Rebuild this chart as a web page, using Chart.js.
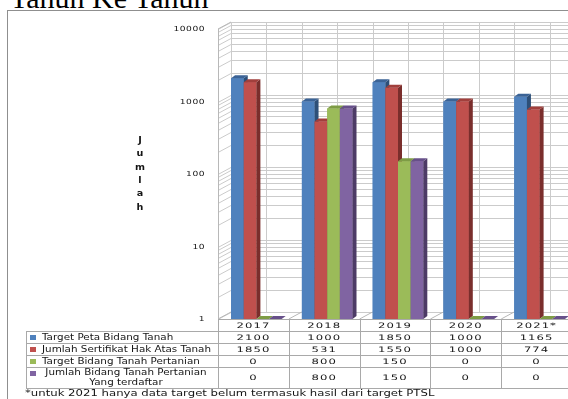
<!DOCTYPE html>
<html>
<head>
<meta charset="utf-8">
<script src="https://cdn.jsdelivr.net/npm/chart.js@4.4.0/dist/chart.umd.min.js"></script>
<style>
html, body { margin: 0; padding: 0; background: #fff; overflow: hidden; width: 568px; height: 399px; }
#title { position: absolute; left: 10px; top: -17px; font-family: "Liberation Serif", serif; font-size: 30px; line-height: 30px; white-space: nowrap; color: #000; }
#box { position: absolute; left: 7px; top: 10px; width: 620px; height: 420px; border: 1px solid #8f8f8f; }
#wrap { position: absolute; left: 0; top: 0; width: 600px; height: 399px; }
</style>
</head>
<body>
<div id="title">Tahun Ke Tahun</div>
<div id="box"></div>
<div id="wrap"><canvas id="chart" width="600" height="399"></canvas></div>
<script>
// Data
const years = ['2017', '2018', '2019', '2020', '2021*'];
const seriesNames = [
    ['Target Peta Bidang Tanah'],
    ['Jumlah Sertifikat Hak Atas Tanah'],
    ['Target Bidang Tanah Pertanian'],
    ['Jumlah Bidang Tanah Pertanian', 'Yang terdaftar']
];
const targetPeta = [2100, 1000, 1850, 1000, 1165];
const sertifikat = [1850, 531, 1550, 1000, 774];
const targetPertanian = [0, 800, 150, 0, 0];
const bidangTerdaftar = [0, 800, 150, 0, 0];
const yTicks = [1, 10, 100, 1000, 10000];
const yTitle = 'Jumlah';
const footnote = '*untuk 2021 hanya data target belum termasuk hasil dari target PTSL';

// Office 2007 palette
const frontColors = ['#4f81bd', '#c0504d', '#9bbb59', '#8064a2'];
const sideColors = ['#2d4f78', '#7a2e2c', '#5f7a31', '#4d3b66'];
const topColors = ['#3b6396', '#a13f3c', '#7e9c45', '#67508a'];

const SHIFT = 3;      // bars sit a bit right of the table columns
const WALL_DX = 13;   // depth of the side wall
const WALL_DY = 7;
const BAR_DX = 4;     // depth of each column
const BAR_DY = 3;
const GRID = '#cbcbcb';
const TEXT = '#151515';

function drawText(ctx, str, x, y, opts) {
    const o = Object.assign({ size: 8, sx: 1.3, align: 'left', bold: false, spacing: 0 }, opts);
    ctx.save();
    ctx.translate(x, y);
    ctx.scale(o.sx, 1);
    ctx.font = (o.bold ? 'bold ' : '') + o.size + 'px "DejaVu Sans"';
    ctx.letterSpacing = o.spacing + 'px';
    ctx.fillStyle = TEXT;
    ctx.textAlign = o.align;
    ctx.textBaseline = 'middle';
    ctx.fillText(str, 0, 0);
    ctx.restore();
}

// Back wall, side wall and floor with log gridlines
const wallPlugin = {
    id: 'wall',
    beforeDatasetsDraw(chart) {
        const ctx = chart.ctx;
        const ca = chart.chartArea;
        const y = chart.scales.y;
        const x = chart.scales.x;
        const colW = (x.right - x.left) / years.length;
        const x0 = ca.left - SHIFT;
        const bx = x0 + WALL_DX;
        const right = chart.width;
        const yTop = y.getPixelForValue(10000);
        const yBot = y.getPixelForValue(1);

        ctx.save();
        ctx.lineWidth = 1;
        ctx.strokeStyle = GRID;
        // horizontal lines, major + minor
        const vals = [];
        for (let d = 0; d < 4; d++) {
            for (let m = 1; m < 10; m++) vals.push(m * Math.pow(10, d));
        }
        vals.push(10000);
        vals.forEach(v => {
            const py = Math.round(y.getPixelForValue(v)) + 0.5;
            ctx.beginPath();
            ctx.moveTo(x0, py);
            ctx.lineTo(bx, py - WALL_DY);
            ctx.lineTo(right, py - WALL_DY);
            ctx.stroke();
        });
        // back wall verticals
        for (let k = 0; k <= years.length * 2; k++) {
            const px = Math.round(bx + k * colW / 2) + 0.5;
            ctx.beginPath();
            ctx.moveTo(px, yTop - WALL_DY);
            ctx.lineTo(px, yBot - WALL_DY);
            ctx.stroke();
        }
        // side wall edges
        ctx.strokeStyle = '#b8b8b8';
        ctx.beginPath();
        ctx.moveTo(x0 + 0.5, yTop);
        ctx.lineTo(x0 + 0.5, yBot);
        ctx.moveTo(x0, yTop);
        ctx.lineTo(bx, yTop - WALL_DY);
        ctx.stroke();
        // floor lines at column boundaries
        for (let k = 0; k <= years.length; k++) {
            const px = x0 + k * colW;
            ctx.beginPath();
            ctx.moveTo(px, yBot);
            ctx.lineTo(px + WALL_DX, yBot - WALL_DY);
            ctx.stroke();
        }
        ctx.restore();
    }
};

// Columns drawn again with depth, left to right so each hides its neighbour's side
const bar3dPlugin = {
    id: 'bar3d',
    afterDatasetsDraw(chart) {
        const ctx = chart.ctx;
        ctx.save();
        chart.data.datasets.forEach((ds, i) => {
            const meta = chart.getDatasetMeta(i);
            meta.data.forEach(bar => {
                const p = bar.getProps(['x', 'y', 'width', 'base'], true);
                const l = p.x - p.width / 2;
                const r = p.x + p.width / 2;
                ctx.fillStyle = frontColors[i];
                ctx.fillRect(l, p.y, p.width, p.base - p.y);
                ctx.fillStyle = sideColors[i];
                ctx.beginPath();
                ctx.moveTo(r, p.y);
                ctx.lineTo(r + BAR_DX, p.y - BAR_DY);
                ctx.lineTo(r + BAR_DX, p.base - BAR_DY);
                ctx.lineTo(r, p.base);
                ctx.closePath();
                ctx.fill();
                ctx.fillStyle = topColors[i];
                ctx.beginPath();
                ctx.moveTo(l, p.y);
                ctx.lineTo(l + BAR_DX, p.y - BAR_DY);
                ctx.lineTo(r + BAR_DX, p.y - BAR_DY);
                ctx.lineTo(r, p.y);
                ctx.closePath();
                ctx.fill();
            });
        });
        ctx.restore();
    }
};

// Axis labels, data table and footnote
const tablePlugin = {
    id: 'table',
    afterDraw(chart) {
        const ctx = chart.ctx;
        const ca = chart.chartArea;
        const x = chart.scales.x;
        const y = chart.scales.y;
        const colW = (x.right - x.left) / years.length;
        const x0 = ca.left - SHIFT;
        const right = chart.width;
        const legendLeft = 26;
        const numFont = { size: 7.5, sx: 1.55, align: 'center', spacing: 0.7 };
        const nameFont = { size: 8.5, sx: 1.22 };

        // y tick labels
        yTicks.forEach(v => {
            drawText(ctx, String(v), 205, y.getPixelForValue(v) + 0.5, { size: 7, sx: 1.3, align: 'right', spacing: 0.4 });
        });
        // y title, one letter per line
        const letters = yTitle.split('');
        letters.forEach((ch, i) => {
            drawText(ctx, ch, 140, 141 + i * 13.3, { size: 8, sx: 1.2, align: 'center', bold: true });
        });

        const rowTop = ca.bottom;
        const rows = [rowTop, rowTop + 12, rowTop + 24, rowTop + 36, rowTop + 48, rowTop + 69];
        const values = [targetPeta, sertifikat, targetPertanian, bidangTerdaftar];

        ctx.save();
        ctx.strokeStyle = '#a9a9a9';
        ctx.lineWidth = 1;
        ctx.beginPath();
        ctx.moveTo(x0, rows[0] + 0.5);
        ctx.lineTo(right, rows[0] + 0.5);
        for (let r = 1; r < rows.length; r++) {
            ctx.moveTo(legendLeft, rows[r] + 0.5);
            ctx.lineTo(right, rows[r] + 0.5);
        }
        ctx.moveTo(legendLeft + 0.5, rows[1]);
        ctx.lineTo(legendLeft + 0.5, rows[5]);
        for (let k = 0; k <= years.length; k++) {
            const px = Math.round(x0 + k * colW) + 0.5;
            ctx.moveTo(px, rows[0]);
            ctx.lineTo(px, rows[5]);
        }
        ctx.stroke();
        ctx.restore();

        // header years
        years.forEach((yr, i) => {
            const cx = x.getPixelForValue(i) - SHIFT;
            drawText(ctx, yr, cx, (rows[0] + rows[1]) / 2 + 1, numFont);
        });
        // rows
        values.forEach((vals, s) => {
            const cy = (rows[s + 1] + rows[s + 2]) / 2 + 1;
            const names = seriesNames[s];
            ctx.fillStyle = frontColors[s];
            const swY = names.length > 1 ? rows[s + 1] + 4 : cy - 3;
            ctx.fillRect(legendLeft + 4, swY, 6, 5);
            if (names.length > 1) {
                names.forEach((n, j) => {
                    drawText(ctx, n, 126, rows[s + 1] + 6 + j * 9.5, Object.assign({ align: 'center' }, nameFont));
                });
            } else {
                drawText(ctx, names[0], legendLeft + 16, cy, nameFont);
            }
            vals.forEach((v, i) => {
                const cx = x.getPixelForValue(i) - SHIFT;
                drawText(ctx, String(v), cx, cy, numFont);
            });
        });
        // footnote
        drawText(ctx, footnote, 25, 394, { size: 9.5, sx: 1.23 });
    }
};

const ctx = document.getElementById('chart').getContext('2d');
new Chart(ctx, {
    type: 'bar',
    data: {
        labels: years,
        datasets: [
            { label: seriesNames[0].join(' '), data: targetPeta, backgroundColor: frontColors[0] },
            { label: seriesNames[1].join(' '), data: sertifikat, backgroundColor: frontColors[1] },
            { label: seriesNames[2].join(' '), data: targetPertanian, backgroundColor: frontColors[2] },
            { label: seriesNames[3].join(' '), data: bidangTerdaftar, backgroundColor: frontColors[3] }
        ]
    },
    options: {
        responsive: false,
        animation: false,
        devicePixelRatio: 1,
        layout: { padding: { left: 0, right: 25, top: 29, bottom: 80 } },
        datasets: { bar: { categoryPercentage: 0.715, barPercentage: 1, borderWidth: 0 } },
        plugins: {
            legend: { display: false },
            tooltip: { enabled: false }
        },
        scales: {
            x: { display: false },
            y: {
                type: 'logarithmic',
                min: 1,
                max: 10000,
                grid: { display: false, drawTicks: false },
                border: { display: false },
                ticks: { display: false },
                afterBuildTicks: scale => { scale.ticks = yTicks.map(v => ({ value: v })); },
                afterFit: scale => { scale.width = 221; }
            }
        }
    },
    plugins: [wallPlugin, bar3dPlugin, tablePlugin]
});
</script>
</body>
</html>
